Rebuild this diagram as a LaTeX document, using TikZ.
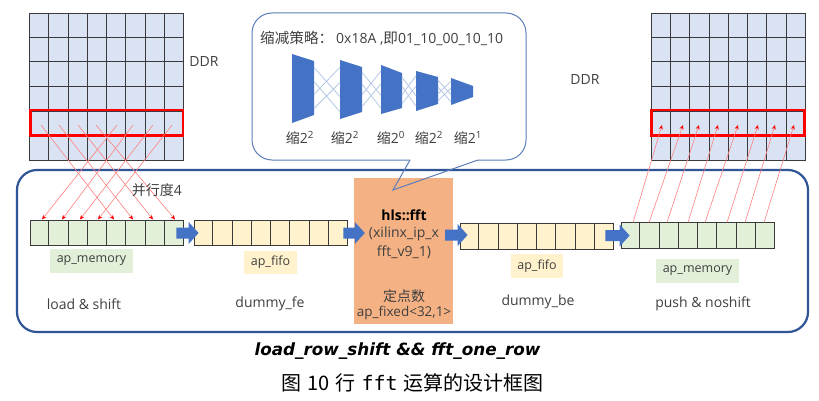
\documentclass[tikz,border=0pt]{standalone}
\usepackage{fontspec}
\setmainfont{Open Sans}
\newfontfamily\cjk{Noto Sans CJK SC}
\newfontfamily\capfont{DejaVu Sans}
\newfontfamily\monof{DejaVu Sans Mono}
\usetikzlibrary{calc,arrows.meta}
\definecolor{ddrfill}{HTML}{DAE3F3}
\definecolor{gridc}{HTML}{3A3A3A}
\definecolor{memfill}{HTML}{E2F0D9}
\definecolor{fifofill}{HTML}{FFF2CC}
\definecolor{fftfill}{HTML}{F4B183}
\definecolor{arrblue}{HTML}{4472C4}
\definecolor{frameblue}{HTML}{2F5597}
\definecolor{callblue}{HTML}{5B7DB9}
\definecolor{crossblue}{HTML}{B4C7E7}
\definecolor{txt}{HTML}{404040}
\definecolor{redline}{HTML}{FF8080}
% #1 start, #2 tip, #3 coordinate giving the arrow's centre line
\newcommand\barrow[3]{\fill[arrblue] let \p1=(#1), \p2=(#2), \p3=(#3) in
  (\x1,\y3+5.5pt) -- (\x2-10pt,\y3+5.5pt) -- (\x2-10pt,\y3+11pt) -- (\x2,\y3)
  -- (\x2-10pt,\y3-11pt) -- (\x2-10pt,\y3-5.5pt) -- (\x1,\y3-5.5pt) -- cycle;}
\newcommand\cellsplit[1]{%
  \foreach \i in {1,...,7}
    \draw[gridc,line width=0.8pt] ($(#1.north west)!\i/8!(#1.north east)$) -- ($(#1.south west)!\i/8!(#1.south east)$);}
\newcommand\ddrgrid[1]{%
  \foreach \i in {1,...,7}
    \draw[gridc,line width=0.8pt] ($(#1.north west)!\i/8!(#1.north east)$) -- ($(#1.south west)!\i/8!(#1.south east)$);
  \foreach \j in {1,...,5}
    \draw[gridc,line width=0.8pt] ($(#1.north west)!\j/6!(#1.south west)$) -- ($(#1.north east)!\j/6!(#1.south east)$);}
\newcommand\xlines[6]{%
  \foreach \a/\b in {0.12/0.62,0.38/0.88,0.62/0.12,0.88/0.38}
    \draw[crossln] ($(#1,#2)!\a!(#1,#3)$) -- ($(#4,#5)!\b!(#4,#6)$);}
\begin{document}
\begin{tikzpicture}[x=1pt,y=-1pt,
  lbl/.style={font=\fontsize{14}{16}\selectfont, text=txt, inner sep=0pt},
  tag/.style={font=\fontsize{12.5}{14}\selectfont, text=txt, inner sep=0pt, minimum height=23.5pt},
  cellarray/.style={draw=gridc, line width=0.8pt, minimum width=153pt, minimum height=25.5pt, inner sep=0pt},
  ddrbox/.style={draw=gridc, line width=0.8pt, fill=ddrfill, minimum width=153.5pt, minimum height=147pt, inner sep=0pt},
  redbox/.style={draw=red, line width=2.6pt},
  redconn/.style={draw=redline, line width=0.6pt, -{Stealth[length=4.5pt,width=4pt,color=red]}},
  crossln/.style={draw=crossblue, line width=0.8pt},
  trap/.style={fill=arrblue},
  callout/.style={draw=callblue, line width=1pt}]
\useasboundingbox (0,0) rectangle (819,401);
\fill[white] (0,0) rectangle (819,401);

% main frame
\draw[frameblue, line width=2.2pt, rounded corners=20pt] (17,170) rectangle (808,332);

% DDR grids
\node[ddrbox] (ddrL) at (106.5,86.5) {};
\ddrgrid{ddrL}
\draw[redbox] (30.5,110) rectangle (183,135.5);
\node[ddrbox] (ddrR) at (728.25,86.5) {};
\ddrgrid{ddrR}
\draw[redbox] (651.5,110) rectangle (804.5,135.5);
\node[lbl] (ddrLt) at (204,62) {DDR};
\node[lbl] (ddrRt) at (585,80) {DDR};

% arrays
\node[cellarray, fill=memfill] (load) at (106.5,233) {};
\cellsplit{load}
\node[cellarray, fill=fifofill] (fe) at (270.5,233) {};
\cellsplit{fe}
\node[cellarray, fill=fifofill] (be) at (536.5,236.5) {};
\cellsplit{be}
\node[cellarray, fill=memfill] (push) at (697.5,235.5) {};
\cellsplit{push}

% tags
\node[tag, fill=memfill, minimum width=83pt] (tagL) at (91.5,261) {ap\_memory};
\node[tag, fill=fifofill, minimum width=53pt] (tagF) at (270.5,262.5) {ap\_fifo};
\node[tag, fill=fifofill, minimum width=52pt] (tagB) at (537,266) {ap\_fifo};
\node[tag, fill=memfill, minimum width=83pt] (tagR) at (697.5,271) {ap\_memory};

\node[lbl] (nload) at (84,304) {load \& shift};
\node[lbl] (nfe) at (270,304) {dummy\_fe};
\node[lbl] (nbe) at (538,302) {dummy\_be};
\node[lbl] (npush) at (703,304) {push \& noshift};

% fft box
\node[fill=fftfill, minimum width=99pt, minimum height=146pt, inner sep=0pt] (fft) at (403.5,251) {};
\node[lbl, font=\fontsize{14}{16}\selectfont\bfseries, text=black] (fft1) at (404,215) {hls::fft};
\node[lbl] (fft2) at (404,234) {(xilinx\_ip\_x};
\node[lbl] (fft3) at (404,252) {fft\_v9\_1)};
\node[lbl, font=\fontsize{14}{16}\selectfont\cjk] (fft4) at (404,296) {定点数};
\node[lbl, font=\fontsize{13.5}{16}\selectfont] (fft5) at (404,312.5) {ap\_fixed<32,1>};

% block arrows
\barrow{[xshift=-7pt]load.east}{[xshift=5pt]fe.west}{fe.west}
\barrow{[xshift=-4pt]fe.east}{[xshift=11pt]fft.west}{fe.east}
\barrow{[xshift=-8pt]fft.east}{[xshift=8pt]be.west}{[yshift=1.5pt]be.west}
\barrow{[xshift=-8pt]be.east}{[xshift=9pt]push.west}{push.west}

% red connectors left (load & shift, parallelism 4)
\foreach \n/\x in {0/41,1/59,2/78,3/96,4/117,5/133,6/153,7/172}
  \coordinate (ls\n) at (\x,125);
\foreach \n/\x in {0/42,1/62,2/80,3/98,4/114,5/133,6/153,7/175}
  \coordinate (le\n) at (\x,219.5);
\foreach \s/\e in {0/4,1/5,2/6,3/7,4/0,5/1,6/2,7/3}
  \draw[redconn] (ls\s) -- (le\e);

% red connectors right (push & noshift)
\foreach \n/\x in {0/633,1/649,2/667,3/688,4/705,5/727,6/745,7/764}
  \coordinate (pb\n) at (\x,222.5);
\foreach \n/\x in {0/662,1/683,2/699,3/718,4/738,5/758,6/775,7/794}
  \coordinate (pt\n) at (\x,125);
\foreach \n in {0,...,7}
  \draw[redconn] (pb\n) -- (pt\n);

\node[lbl] (par) at (157,190) {{\cjk 并行度}4};

% callout
\coordinate (cl) at (410,160);
\coordinate (cr) at (478,160);
\coordinate (ctip) at (393,190);
\draw[callout, rounded corners=20pt] (cl) -- (252,160) -- (252,13) -- (526,13) -- (526,160) -- (cr);
\draw[callout, line join=miter] (cr) -- (ctip) -- (cl);
\node[lbl, anchor=west] (ctitle) at (260,38) {{\fontsize{14.6}{16}\selectfont\cjk 缩减策略：}\hspace{3pt}0x18A ,{\fontsize{14.6}{16}\selectfont\cjk 即}01\_10\_00\_10\_10};

% trapezoids
\fill[trap] (292,54) -- (314,61) -- (314,115) -- (292,123) -- cycle;
\fill[trap] (340,60) -- (362,67) -- (362,112) -- (340,119) -- cycle;
\fill[trap] (381,65) -- (402,73) -- (402,108) -- (381,114) -- cycle;
\fill[trap] (416,71) -- (438,77) -- (438,104) -- (416,111) -- cycle;
\fill[trap] (451,78) -- (473,86) -- (473,97) -- (451,105) -- cycle;
\xlines{314}{61}{115}{340}{60}{119}
\xlines{362}{67}{112}{381}{65}{114}
\xlines{402}{73}{108}{416}{71}{111}
\xlines{438}{77}{104}{451}{78}{105}

\node[lbl] (s1) at (300,138) {{\cjk 缩}2\textsuperscript{2}};
\node[lbl] (s2) at (345,138) {{\cjk 缩}2\textsuperscript{2}};
\node[lbl] (s3) at (391,138) {{\cjk 缩}2\textsuperscript{0}};
\node[lbl] (s4) at (429,138) {{\cjk 缩}2\textsuperscript{2}};
\node[lbl] (s5) at (468,138) {{\cjk 缩}2\textsuperscript{1}};

% captions
\node[inner sep=0pt, font=\fontsize{16.8}{18}\selectfont\capfont\bfseries\itshape] (cap1) at (397.5,351) {load\_row\_shift \&\& fft\_one\_row};
\node[inner sep=0pt, font=\fontsize{20}{22}\selectfont\cjk] (cap2) at (412.5,383) {图\hspace{6pt}10\hspace{6pt}行\hspace{6pt}{\monof fft}\hspace{6pt}运算的设计框图};
\end{tikzpicture}
\end{document}
